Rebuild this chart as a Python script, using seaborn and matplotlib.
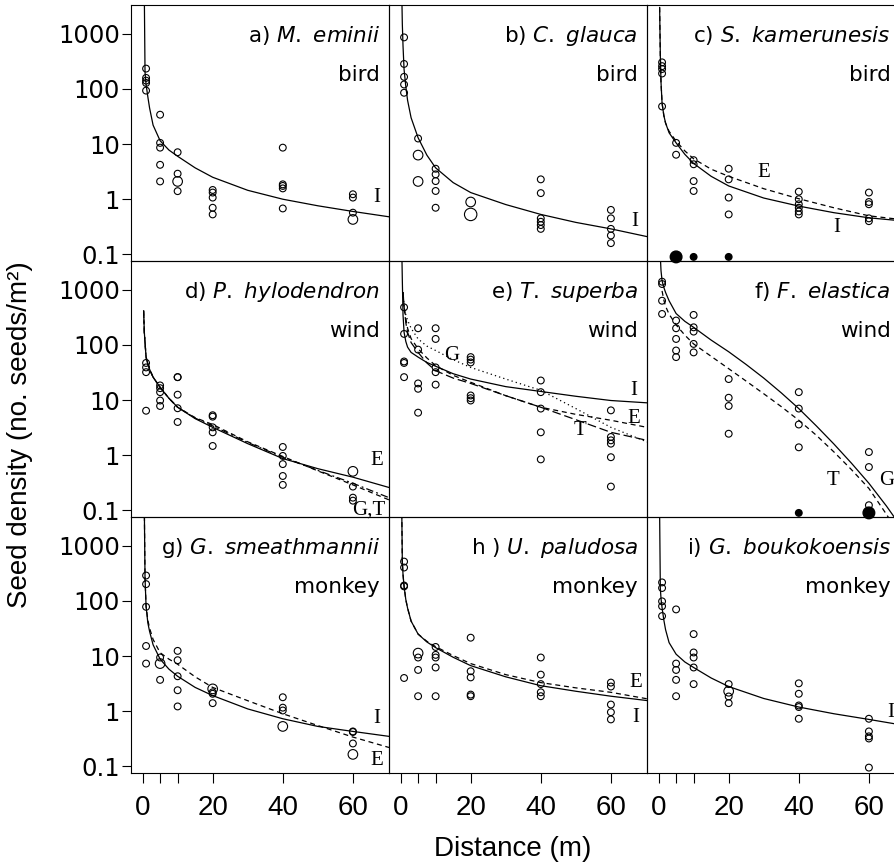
import numpy as np
import pandas as pd
import matplotlib
matplotlib.use('Agg')
import matplotlib.pyplot as plt
import seaborn as sns
from matplotlib import font_manager
from matplotlib.ticker import FixedLocator, FixedFormatter, NullLocator

# trap distances (m) and grids used to read the fitted curves off the figure
DIST = [1, 5, 10, 20, 40, 60]
FIT_D = [0.3, 0.5, 0.7, 1, 1.5, 2, 3, 5, 7.5, 10, 15, 20, 30, 40, 50, 60, 70.3]
F_FIT_D = [0.5, 0.7, 1, 1.5, 2, 3, 5, 7.5, 10, 15, 20, 25, 30, 35, 40, 45, 50, 55, 60, 65, 70.3]
NA = np.nan

# ---- seed densities per distance (open circles), big = overlapping traps
a_seeds = [[233, 158, 141, 128, 93], [34, 10.5, 8.6, 4.2, 2.1], [7.1, 2.9, 1.4],
           [1.47, 1.32, 1.07, 0.70, 0.53], [8.6, 1.86, 1.74, 1.57, 0.68], [1.23, 1.07, 0.57]]
a_big = [[], [], [2.1], [], [], [0.43]]
b_seeds = [[857, 283, 165, 120, 85], [12.6], [3.57, 2.82, 2.13, 1.41, 0.70], [],
           [2.29, 1.29, 0.45, 0.39, 0.34, 0.29], [0.64, 0.45, 0.29, 0.22, 0.16]]
b_big = [[], [6.3, 2.1], [], [0.89], [], []]
b_huge = [[], [], [], [0.53], [], []]
c_seeds = [[302, 258, 229, 190, 48], [10.5, 6.4], [5.1, 4.3, 2.13, 1.41],
           [3.57, 2.29, 1.07, 0.53], [1.37, 1.0, 0.81, 0.70, 0.60, 0.53],
           [1.32, 0.89, 0.81, 0.45, 0.40]]
c_zero = [0, 2, 1, 1, 0, 0]
d_seeds = [[47, 39, 32, 6.4], [18.4, 16.4, 13.9, 9.8, 7.8], [26, 26, 12.5, 7.1, 4.0],
           [5.3, 5.0, 3.2, 2.6, 1.47], [1.41, 0.97, 0.69, 0.42, 0.29], [0.27, 0.17, 0.15]]
d_big = [[], [], [], [], [], [0.51]]
e_seeds = [[479, 158, 50, 47, 26], [200, 82, 20, 16, 5.9], [200, 128, 39, 32, 19],
           [60, 54, 48, 12.1, 10.8, 9.8], [22.6, 13.9, 7.0, 2.6, 0.84],
           [6.5, 2.14, 1.86, 1.62, 0.92, 0.27]]
f_seeds = [[1396, 1267, 631, 363], [276, 200, 128, 79, 60], [349, 208, 174, 104, 73],
           [24, 11, 7.8, 2.45], [13.9, 7.0, 3.6, 1.39], [1.14, 0.61, 0.124]]
f_zero = [0, 0, 0, 0, 1, 2]
g_seeds = [[288, 201, 78, 15.2, 7.3], [9.4, 3.7], [12.4, 8.4, 4.3, 2.4, 1.22],
           [2.2, 2.07, 1.4], [1.79, 1.16, 1.03], [0.43, 0.42, 0.26]]
g_big = [[], [7.3], [], [2.54], [0.53], [0.165]]
h_seeds = [[515, 402, 190, 183, 4.0], [9.4, 5.6, 1.87], [14.6, 10.5, 9.4, 6.2, 1.87],
           [21.5, 5.3, 4.1, 2.0, 1.87], [9.4, 4.6, 3.1, 2.2, 1.87], [3.3, 2.8, 1.32, 0.96, 0.71]]
h_big = [[], [11.3], [], [], [], []]
i_seeds = [[216, 171, 98, 80, 53], [70, 7.3, 5.6, 3.7, 1.87], [25, 11.6, 9.4, 6.2, 3.1],
           [3.1, 1.85, 1.4], [3.2, 2.07, 1.27, 1.19, 0.73], [0.73, 0.43, 0.35, 0.32, 0.095]]
i_big = [[], [], [], [2.3], [], []]

# ---- fitted curves read at FIT_D (panel f at F_FIT_D)
a_I = [NA, 5000, 200, 120, 72, 45, 22, 11.5, 7.8, 6.0, 3.7, 2.5, 1.45, 1.0, 0.76, 0.6, 0.48]
b_I = [8000, 1500, 600, 224, 110, 62, 30, 13, 6.3, 3.7, 2.0, 1.32, 0.8, 0.53, 0.38, 0.29, 0.21]
c_I = [3000, 400, 130, 55, 33, 24, 16, 10.5, 6.5, 4.45, 2.6, 1.74, 1.05, 0.75, 0.57, 0.46, 0.40]
c_E = [3000, 400, 130, 55, 33, 24, 17, 11.3, 7.5, 5.4, 3.5, 2.6, 1.55, 1.02, 0.7, 0.50, 0.42]
d_E = [416, 169, 111, 60, 45, 36, 26, 17, 10.8, 7.4, 4.6, 3.2, 1.62, 0.87, 0.57, 0.40, 0.26]
d_G = [416, 169, 111, 60, 45, 36, 26, 17, 10.8, 7.4, 4.8, 3.6, 1.75, 0.95, 0.52, 0.29, 0.155]
d_T = [416, 169, 111, 60, 45, 36, 26, 17, 10.8, 7.4, 4.7, 3.4, 1.7, 0.92, 0.53, 0.31, 0.17]
e_I = [8000, 1500, 350, 169, 115, 91, 73, 60, 48, 41, 30, 24, 17.5, 14.3, 11.7, 9.8, 8.9]
e_E = [NA, NA, 900, 500, 300, 200, 130, 85, 58, 42, 28, 21, 12, 7.4, 5.5, 4.3, 3.2]
e_G = [NA, NA, 900, 500, 350, 280, 200, 128, 95, 79, 54, 39, 24, 15, 7.0, 3.2, 1.74]
e_T = [NA, NA, 900, 500, 250, 170, 110, 73, 47, 34, 25, 20, 12, 7.4, 4.4, 2.6, 1.86]
f_G = [4000, 2200, 1450, 1100, 890, 630, 370, 267, 208, 122, 75, 44, 25, 13.5, 7.0,
       3.4, 1.6, 0.72, 0.31, 0.12, 0.04]
f_T = [NA, NA, 950, 650, 500, 360, 230, 150, 104, 62, 37, 22, 13, 7.6, 4.3,
       2.3, 1.15, 0.55, 0.25, 0.085, 0.025]
g_I = [NA, 5000, 260, 80, 40, 28, 16, 8.8, 5.8, 4.3, 2.7, 1.92, 1.1, 0.73, 0.53, 0.43, 0.35]
g_E = [NA, 5000, 260, 80, 45, 32, 20, 11.5, 8.8, 7.1, 4.2, 2.7, 1.55, 0.9, 0.55, 0.34, 0.22]
h_I = [8000, 515, 300, 183, 105, 74, 43, 25, 18, 14.2, 9.5, 6.7, 4.2, 2.9, 2.3, 1.87, 1.56]
h_E = [8000, 515, 300, 183, 105, 74, 43, 25, 18.5, 14.8, 10.2, 7.3, 4.6, 3.3, 2.65, 2.2, 1.68]
i_I = [4000, 171, 110, 75, 45, 30, 17.5, 10.8, 7.8, 6.2, 4.0, 2.8, 1.7, 1.19, 0.9, 0.71, 0.55]

TITLES = [('a)', 'M. eminii', 'bird'), ('b)', 'C. glauca', 'bird'),
          ('c)', 'S. kamerunesis', 'bird'), ('d)', 'P. hylodendron', 'wind'),
          ('e)', 'T. superba', 'wind'), ('f)', 'F. elastica', 'wind'),
          ('g)', 'G. smeathmannii', 'monkey'), ('h )', 'U. paludosa', 'monkey'),
          ('i)', 'G. boukokoensis', 'monkey')]
YTICKS = [0.1, 1, 10, 100, 1000]
YLABELS = ['0.1', '1', '10', '100', '1000']
XTICKS = [0, 5, 10, 20, 40, 60]
XLABELS = ['0', '', '', '20', '40', '60']
ZERO_Y = 0.09

SOLID = '-'
DASH = (0, (4, 3))
DOT = (0, (1, 2.5))
LDASH = (0, (7, 3))
DASHDOT = (0, (6, 2.5, 1.5, 2.5))

panels = [
    dict(seeds=a_seeds, big=a_big, curves=[(FIT_D, a_I, SOLID)], labels=[('I', 66.8, 1.07)]),
    dict(seeds=b_seeds, big=b_big, huge=b_huge, curves=[(FIT_D, b_I, SOLID)],
         labels=[('I', 66.9, 0.39)]),
    dict(seeds=c_seeds, zero=c_zero, curves=[(FIT_D, c_I, SOLID), (FIT_D, c_E, DASH)],
         labels=[('E', 29.9, 3.0), ('I', 50.9, 0.31)]),
    dict(seeds=d_seeds, big=d_big,
         curves=[(FIT_D, d_E, SOLID), (FIT_D, d_G, DASH), (FIT_D, d_T, DASHDOT)],
         labels=[('E', 66.8, 0.81), ('G,T', 64.4, 0.10)]),
    dict(seeds=e_seeds,
         curves=[(FIT_D, e_I, SOLID), (FIT_D, e_E, DASH), (FIT_D, e_G, DOT), (FIT_D, e_T, LDASH)],
         labels=[('G', 14.7, 64), ('I', 66.6, 15), ('E', 66.6, 4.6), ('T', 51.3, 2.8)]),
    dict(seeds=f_seeds, zero=f_zero, curves=[(F_FIT_D, f_G, SOLID), (F_FIT_D, f_T, DASH)],
         labels=[('T', 49.9, 0.35), ('G', 65.0, 0.35)]),
    dict(seeds=g_seeds, big=g_big, curves=[(FIT_D, g_I, SOLID), (FIT_D, g_E, DASH)],
         labels=[('I', 66.7, 0.73), ('E', 66.9, 0.13)]),
    dict(seeds=h_seeds, big=h_big, curves=[(FIT_D, h_I, SOLID), (FIT_D, h_E, DASH)],
         labels=[('E', 67, 3.3), ('I', 67, 0.78)]),
    dict(seeds=i_seeds, big=i_big, curves=[(FIT_D, i_I, SOLID)], labels=[('I', 66.2, 0.96)]),
]

sns.set_style('ticks')
names = {f.name for f in font_manager.fontManager.ttflist}
NARROW = 'Liberation Sans Narrow' if 'Liberation Sans Narrow' in names else 'Liberation Sans'
plt.rcParams['font.family'] = ['DejaVu Sans']
plt.rcParams['axes.edgecolor'] = 'black'
plt.rcParams['axes.linewidth'] = 0.8
plt.rcParams['text.color'] = 'black'
plt.rcParams['xtick.color'] = 'black'
plt.rcParams['ytick.color'] = 'black'
plt.rcParams['axes.labelcolor'] = 'black'


def to_frame(lists):
    rows = [(DIST[k], v) for k, vals in enumerate(lists) for v in vals]
    return pd.DataFrame(rows, columns=['dist', 'dens'])


def title_text(tag, name):
    # italic species name, each word as its own mathtext piece so spaces stay normal
    words = ['$\\it{' + w + '}$' for w in name.split(' ')]
    return tag + ' ' + ' '.join(words)


fig = plt.figure(figsize=(8.94, 8.67), dpi=100)
W, H = 894.0, 867.0
lefts = [131, 389, 647]
tops = [5, 261, 517]
pw, ph = 258, 256
title_x = [0.965, 0.965, 0.945]  # right column runs past the figure edge

for n, p in enumerate(panels):
    r, c = divmod(n, 3)
    ax = fig.add_axes([lefts[c] / W, 1 - (tops[r] + ph) / H, pw / W, ph / H])
    ax.set_yscale('log')
    ax.patch.set_alpha(0)

    for xs, vals, ls in p['curves']:
        sns.lineplot(x=xs, y=vals, ax=ax, color='black', lw=0.9,
                     linestyle=ls, estimator=None, sort=False)

    for key, s in (('seeds', 24), ('big', 48), ('huge', 80)):
        if key in p:
            df = to_frame(p[key])
            if len(df):
                sns.scatterplot(data=df, x='dist', y='dens', ax=ax, s=s,
                                color='black', facecolors='none',
                                edgecolor='black', linewidth=0.8, legend=False)
    if 'zero' in p:
        zx = [DIST[k] for k, cnt in enumerate(p['zero']) if cnt > 0]
        zs = [22 if cnt == 1 else 70 for cnt in p['zero'] if cnt > 0]
        ax.scatter(zx, [ZERO_Y] * len(zx), s=zs, color='black', zorder=5)
        for coll in ax.collections:
            coll.set_clip_on(False)

    ax.set_xlim(-3.3, 70.3)
    ax.set_ylim(10 ** -1.12, 10 ** 3.52)
    ax.yaxis.set_minor_locator(NullLocator())
    ax.xaxis.set_minor_locator(NullLocator())
    ax.set_xlabel('')
    ax.set_ylabel('')
    for sp in ax.spines.values():
        sp.set_visible(True)
        sp.set_linewidth(0.8)

    if c == 0:
        ax.yaxis.set_major_locator(FixedLocator(YTICKS))
        ax.yaxis.set_major_formatter(FixedFormatter(YLABELS))
        ax.tick_params(axis='y', direction='out', length=6.5, width=0.8,
                       pad=1.5, labelsize=17.5)
    else:
        ax.set_yticks([])
    if r == 2:
        ax.set_xticks(XTICKS)
        ax.set_xticklabels(XLABELS, fontfamily=NARROW, fontsize=20)
        ax.tick_params(axis='x', direction='out', length=7, width=0.8, pad=9)
    else:
        ax.set_xticks([])

    tag, sp_name, vector = TITLES[n]
    ax.text(title_x[c], 0.88, title_text(tag, sp_name), transform=ax.transAxes,
            ha='right', va='center', fontsize=15.5)
    ax.text(title_x[c], 0.725, vector, transform=ax.transAxes, ha='right',
            va='center', fontsize=15.5)
    for txt, lx, ly in p['labels']:
        ax.text(lx, ly, txt, ha='center', va='center', fontsize=15,
                family='Liberation Serif')

fig.text(20 / W, 1 - 435 / H, 'Seed density (no. seeds/m²)', rotation=90,
         ha='center', va='center', fontsize=20, family=NARROW)
fig.text(513 / W, 1 - 849 / H, 'Distance (m)', ha='center', va='center',
         fontsize=20, family=NARROW)

fig.savefig('out.png', dpi=100)
